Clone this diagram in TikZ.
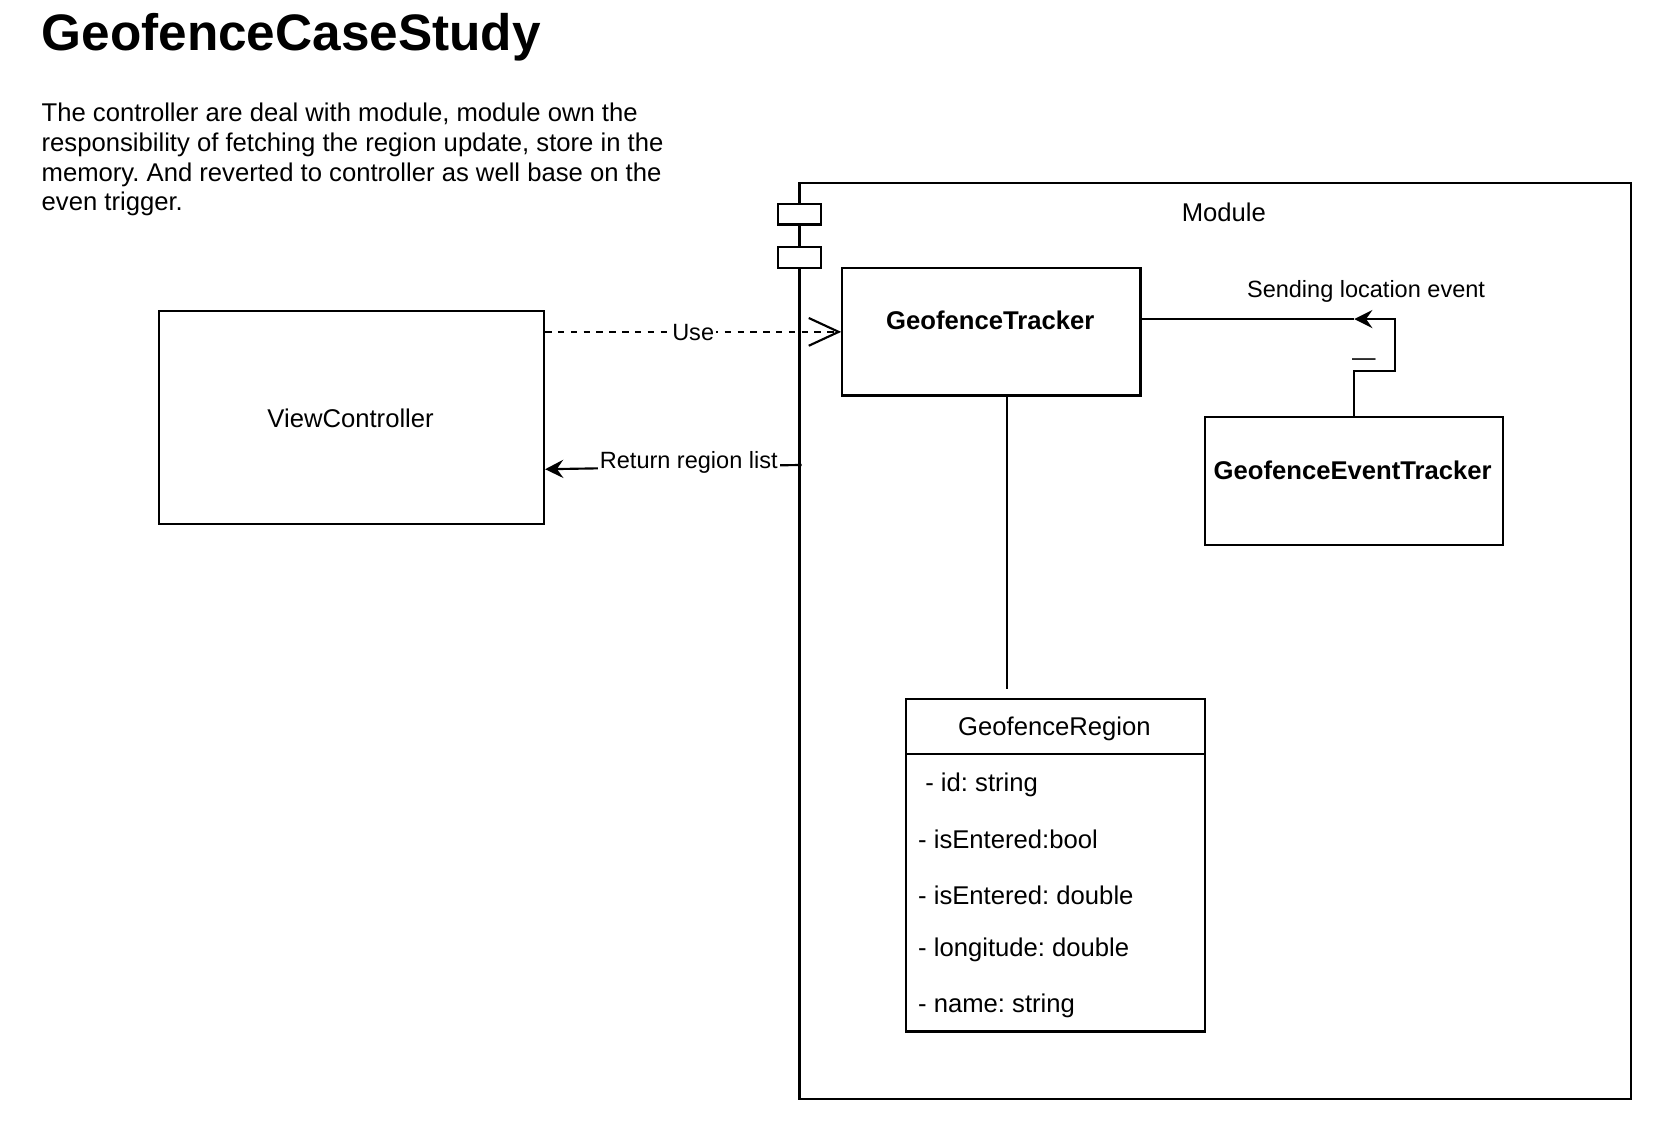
\documentclass[tikz,border=0pt]{standalone}
\usepackage{fontspec}
\setmainfont{Liberation Sans}
\setsansfont{Liberation Sans}
\usetikzlibrary{arrows.meta}
\frenchspacing

\tikzset{
  box/.style={draw, rectangle, fill=white, inner sep=0pt},
  txt/.style={font=\fontsize{12}{14}\selectfont, inner sep=0pt},
  bold/.style={font=\fontsize{12}{14}\selectfont\bfseries, inner sep=0pt},
  lbl/.style={font=\fontsize{11}{13}\selectfont, inner sep=1pt},
  usearrow/.style={dash pattern=on 3pt off 3pt, -{Straight Barb[length=14pt,width=13pt]}},
  retarrow/.style={-{Stealth[length=8.5pt,width=8.5pt,inset=3pt]}}
}

\begin{document}
\begin{tikzpicture}[x=0.5pt, y=-0.5pt, line width=1pt]
  \useasboundingbox (0,0) rectangle (1568,1052);

  % title and description
  \node[font=\fontsize{24}{29}\selectfont\bfseries, inner sep=0pt, anchor=base west]
    (title) at (38,47) {GeofenceCaseStudy};
  \node[txt, anchor=north west, align=left] (desc) at (38,95)
    {The controller are deal with module, module own the\\
     responsibility of fetching the region update, store in the\\
     memory. And reverted to controller as well base on the\\
     even trigger.};

  % module with its ports
  \node[box, minimum width=389pt, minimum height=428.5pt] (module) at (1137,599.5) {};
  \node[txt] (modulename) at (1145,199) {Module};
  \node[box, minimum width=20pt, minimum height=9.5pt] (port1) at (748,200.5) {};
  \node[box, minimum width=20pt, minimum height=10pt] (port2) at (748,241) {};

  % classes
  \node[box, minimum width=180pt, minimum height=99.5pt] (vc) at (329,390.5) {};
  \node[txt] (vcname) at (328,391) {ViewController};
  \node[box, minimum width=139.5pt, minimum height=59.5pt] (tracker) at (927.5,310.5) {};
  \node[bold] (trackername) at (926.5,300) {GeofenceTracker};
  \node[box, minimum width=139.5pt, minimum height=60pt] (evt) at (1266.5,450) {};
  \node[bold] (evtname) at (1265.5,440) {GeofenceEventTracker};

  \node[box, minimum width=139.5pt, minimum height=155.5pt] (region) at (987.5,809.5) {};
  \node[txt] (regionname) at (986.5,682) {GeofenceRegion};
  \draw (region.west |- 0,705.5) -- (region.east |- 0,705.5);
  \foreach \y/\t [count=\i] in {734/{\ - id: string}, 785/{- isEntered:bool},
      838/{- isEntered: double}, 889/{- longitude: double}, 941/{- name: string}}
    \node[txt, anchor=west] (attr\i) at (858,\y) {\t};

  % connectors
  \coordinate (retstart) at (750,435);
  \coordinate (regtop) at (942,645);
  \coordinate (junction) at (1267,298.5);

  \draw[usearrow] (vc.east |- tracker.west) -- node[lbl, fill=white, yshift=-0.5pt] (uselabel) {Use} (tracker.west);
  \draw[retarrow] (retstart) -- node[lbl, fill=white, pos=0.44, yshift=2.2pt] (retlabel) {Return region list}
    ([yshift=-24.25pt]vc.east);
  \draw (tracker.south -| regtop) -- (regtop);
  \draw ([yshift=6pt]tracker.east) -- (junction);
  \draw[retarrow] (evt.north) -- ++(0,-42) -| (1305,298.5) -- (junction);
  \node[lbl, inner sep=0pt] (sendlabel) at (1278,273) {Sending location event};
  \node[lbl, inner sep=0pt] (dashlabel) at (1276,339) {\textemdash};
\end{tikzpicture}
\end{document}
